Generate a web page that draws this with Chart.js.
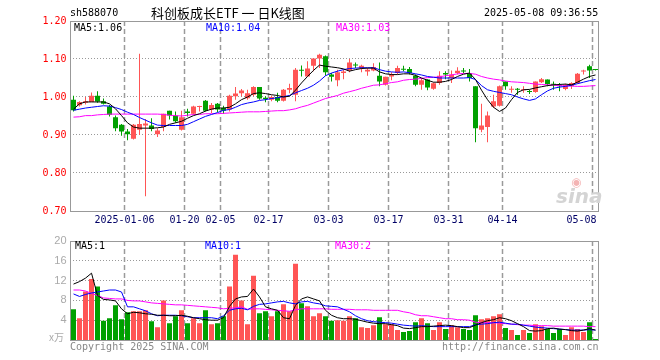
<!DOCTYPE html>
<html><head><meta charset="utf-8">
<script src="https://cdn.jsdelivr.net/npm/chart.js@4.4.1/dist/chart.umd.min.js"></script>
<style>
html,body{margin:0;padding:0;background:#fff;}
#wrap{position:relative;width:660px;height:360px;overflow:hidden;background:#fff;}
canvas{position:absolute;left:0;top:0;}
.t{position:absolute;white-space:nowrap;font-family:"DejaVu Sans Mono","Liberation Mono",monospace;font-size:10px;line-height:12px;}
</style></head><body>
<div id="wrap">
<canvas id="k" width="660" height="360"></canvas>
<canvas id="v" width="660" height="360"></canvas>
<div class="t" style="left:70px;top:7px;">sh588070</div>
<div class="t" style="left:151px;top:4px;font-family:'Noto Sans CJK SC',sans-serif;font-size:13px;line-height:18px;">科创板成长ETF 一 日K线图</div>
<div class="t" style="left:484px;top:7px;">2025-05-08 09:36:55</div>
<div class="t" style="left:74px;top:22px;color:#000;">MA5:1.06</div>
<div class="t" style="left:206px;top:22px;color:#0000ff;">MA10:1.04</div>
<div class="t" style="left:336px;top:22px;color:#ff00ff;">MA30:1.03</div>
<div class="t" style="left:75px;top:240px;color:#000;">MA5:1</div>
<div class="t" style="left:205px;top:240px;color:#0000ff;">MA10:1</div>
<div class="t" style="left:335px;top:240px;color:#ff00ff;">MA30:2</div>
<div class="t" style="left:49px;top:331px;color:#aaa;font-family:'Noto Sans CJK SC',sans-serif;font-size:10px;">x万</div>
<div class="t" style="left:70px;top:341px;color:#888;">Copyright 2025 SINA.COM</div>
<div class="t" style="left:442px;top:341px;color:#888;">http://finance.sina.com.cn</div>
<div class="t" style="left:571px;top:176px;color:#f4b4b4;font-family:'DejaVu Sans',sans-serif;font-size:12px;line-height:12px;font-weight:bold;">◉</div>
<div class="t" style="left:556px;top:185px;color:#d4d4d4;font-family:'DejaVu Sans',sans-serif;font-size:20px;line-height:22px;font-weight:bold;font-style:italic;">sina</div>
</div>
<script>
const dates = ['2024-12-23','2024-12-24','2024-12-25','2024-12-26','2024-12-27','2024-12-30','2024-12-31',
'2025-01-02','2025-01-03','2025-01-06','2025-01-07','2025-01-08','2025-01-09','2025-01-10','2025-01-13','2025-01-14','2025-01-15','2025-01-16','2025-01-17','2025-01-20','2025-01-21','2025-01-22','2025-01-23','2025-01-24','2025-01-27',
'2025-02-05','2025-02-06','2025-02-07','2025-02-10','2025-02-11','2025-02-12','2025-02-13','2025-02-14','2025-02-17','2025-02-18','2025-02-19','2025-02-20','2025-02-21','2025-02-24','2025-02-25','2025-02-26','2025-02-27','2025-02-28',
'2025-03-03','2025-03-04','2025-03-05','2025-03-06','2025-03-07','2025-03-10','2025-03-11','2025-03-12','2025-03-13','2025-03-14','2025-03-17','2025-03-18','2025-03-19','2025-03-20','2025-03-21','2025-03-24','2025-03-25','2025-03-26','2025-03-27','2025-03-28','2025-03-31',
'2025-04-01','2025-04-02','2025-04-03','2025-04-07','2025-04-08','2025-04-09','2025-04-10','2025-04-11','2025-04-14','2025-04-15','2025-04-16','2025-04-17','2025-04-18','2025-04-21','2025-04-22','2025-04-23','2025-04-24','2025-04-25','2025-04-28','2025-04-29','2025-04-30',
'2025-05-06','2025-05-07','2025-05-08'];
const tickDates = ['2025-01-06','2025-01-20','2025-02-05','2025-02-17','2025-03-03','2025-03-17','2025-03-31','2025-04-14','2025-05-08'];
const tickText  = ['2025-01-06','01-20','02-05','02-17','03-03','03-17','03-31','04-14','05-08'];
const priceTicks = [0.70,0.80,0.90,1.00,1.10,1.20];
const volTicks = [0,4,8,12,16,20];

const opens = [0.993,0.978,0.985,0.987,1.003,0.989,0.975,0.947,0.927,0.909,
0.890,0.914,0.925,0.925,0.902,0.921,0.964,0.951,0.914,0.962,
0.956,0.974,0.990,0.967,0.982,0.971,0.967,1.002,1.010,0.997,
1.006,1.026,0.998,0.993,1.000,0.990,1.019,1.006,1.071,1.054,
1.082,1.101,1.107,1.059,1.044,1.063,1.070,1.085,1.076,1.067,
1.070,1.056,1.032,1.054,1.063,1.074,1.074,1.056,1.032,1.046,
1.022,1.037,1.063,1.050,1.063,1.069,1.063,1.028,0.914,0.921,
0.975,0.977,1.041,1.019,1.021,1.018,1.015,1.013,1.039,1.046,
1.034,1.031,1.021,1.028,1.037,1.067,1.081,1.072];
const closes = [0.965,0.987,0.989,1.003,0.988,0.982,0.953,0.918,0.909,0.902,
0.927,0.929,0.930,0.916,0.912,0.956,0.951,0.936,0.947,0.958,
0.975,0.976,0.964,0.979,0.967,0.964,1.003,1.009,1.017,1.010,
1.026,0.996,0.995,1.000,0.990,1.019,1.024,1.072,1.069,1.075,
1.101,1.111,1.065,1.053,1.065,1.067,1.091,1.083,1.082,1.072,
1.079,1.041,1.053,1.059,1.076,1.072,1.063,1.032,1.044,1.025,
1.036,1.056,1.059,1.059,1.069,1.067,1.050,0.918,0.925,0.951,
0.989,1.028,1.028,1.021,1.019,1.020,1.013,1.041,1.047,1.034,
1.032,1.028,1.032,1.037,1.061,1.069,1.070,1.071];
const highs = [1.003,0.989,1.000,1.012,1.015,0.996,0.979,0.951,0.929,0.916,
0.929,1.114,0.942,0.944,0.918,0.956,0.964,0.962,0.964,0.969,
0.977,0.977,0.992,0.984,0.984,0.977,1.006,1.026,1.021,1.019,
1.028,1.026,1.002,1.004,1.011,1.021,1.035,1.076,1.083,1.094,
1.101,1.114,1.109,1.063,1.072,1.072,1.100,1.091,1.085,1.076,
1.089,1.091,1.053,1.065,1.082,1.082,1.079,1.059,1.050,1.047,
1.038,1.068,1.068,1.070,1.078,1.076,1.074,1.028,0.982,0.962,
1.006,1.030,1.041,1.028,1.024,1.028,1.019,1.041,1.050,1.046,
1.041,1.037,1.035,1.039,1.063,1.072,1.085,1.073];
const lows = [0.962,0.975,0.980,0.987,0.985,0.980,0.949,0.910,0.898,0.886,
0.888,0.900,0.739,0.910,0.895,0.910,0.941,0.932,0.912,0.949,
0.953,0.962,0.962,0.958,0.960,0.956,0.962,0.993,1.002,0.993,
1.002,0.993,0.986,0.989,0.986,0.988,1.010,0.989,1.054,1.054,
1.068,1.076,1.056,1.041,1.028,1.047,1.065,1.076,1.065,1.056,
1.068,1.028,1.030,1.044,1.059,1.068,1.059,1.028,1.019,1.018,
1.019,1.032,1.047,1.037,1.059,1.063,1.041,0.881,0.907,0.881,
0.971,0.975,1.019,1.011,1.006,1.011,1.008,1.011,1.037,1.028,
1.019,1.015,1.018,1.021,1.035,1.059,1.050,1.070];
const ma5 = [0.968,0.982,0.987,0.987,0.987,0.987,0.982,0.969,0.951,0.932,
0.921,0.918,0.918,0.918,0.919,0.921,0.928,0.932,0.936,0.944,
0.951,0.956,0.963,0.968,0.971,0.971,0.973,0.982,0.993,1.000,
1.009,1.011,1.009,1.006,1.004,1.000,1.002,1.018,1.037,1.054,
1.070,1.084,1.081,1.079,1.077,1.074,1.068,1.072,1.075,1.076,
1.076,1.066,1.061,1.059,1.059,1.061,1.061,1.057,1.050,1.044,
1.039,1.039,1.041,1.046,1.054,1.060,1.063,1.046,1.018,0.993,
0.973,0.962,0.971,0.993,1.012,1.019,1.020,1.024,1.027,1.030,
1.032,1.033,1.034,1.032,1.039,1.047,1.054,1.058];
const ma10 = [0.965,0.968,0.971,0.973,0.975,0.977,0.976,0.972,0.967,0.960,
0.954,0.946,0.939,0.932,0.926,0.925,0.925,0.925,0.925,0.928,
0.935,0.942,0.949,0.954,0.959,0.965,0.967,0.973,0.980,0.984,
0.987,0.991,0.993,0.996,0.998,1.001,1.004,1.011,1.017,1.023,
1.031,1.042,1.056,1.063,1.068,1.072,1.075,1.076,1.077,1.077,
1.077,1.072,1.068,1.066,1.065,1.066,1.064,1.061,1.058,1.054,
1.052,1.050,1.050,1.050,1.050,1.050,1.051,1.046,1.030,1.019,
1.015,1.012,1.009,1.006,1.000,0.995,0.991,0.995,1.006,1.016,
1.023,1.026,1.028,1.031,1.035,1.039,1.043,1.046];
const ma30 = [0.947,0.948,0.951,0.951,0.953,0.954,0.955,0.955,0.955,0.955,
0.955,0.955,0.955,0.955,0.955,0.954,0.952,0.951,0.950,0.952,
0.954,0.954,0.956,0.956,0.956,0.957,0.958,0.959,0.960,0.961,
0.961,0.961,0.962,0.963,0.964,0.964,0.966,0.969,0.974,0.978,
0.984,0.990,0.996,1.000,1.004,1.010,1.014,1.018,1.023,1.027,
1.031,1.032,1.035,1.038,1.040,1.044,1.046,1.047,1.049,1.051,
1.052,1.053,1.056,1.058,1.061,1.062,1.062,1.060,1.054,1.050,
1.047,1.045,1.042,1.040,1.039,1.038,1.036,1.034,1.033,1.032,
1.031,1.030,1.029,1.029,1.028,1.028,1.029,1.030];
const volumes = [6.2,4.4,9.8,12.3,10.8,3.9,4.4,7.0,4.2,5.6,
5.8,5.8,6.0,3.8,2.6,8.0,3.4,4.8,6.0,3.4,
4.4,3.4,6.0,3.2,3.4,4.8,10.8,17.2,8.0,3.2,
13.0,5.4,5.8,4.8,5.8,7.2,5.8,15.4,7.4,6.8,
4.8,5.4,4.8,3.9,4.0,3.9,4.8,4.4,2.6,2.4,
3.0,4.6,3.2,3.2,2.0,1.6,1.8,3.6,4.4,3.4,
2.0,3.6,2.2,3.0,2.6,2.2,2.0,5.0,4.2,4.4,
4.8,5.2,2.4,2.0,1.0,2.0,1.4,3.2,2.8,2.2,
1.4,2.2,1.0,2.6,2.2,1.6,3.6,0.2];
const vma5 = [11.3,11.8,12.5,13.5,9.0,8.2,8.1,7.9,6.3,5.3,
5.6,5.5,5.3,5.2,5.0,5.0,4.9,4.9,5.0,4.8,
4.5,4.3,4.1,4.0,4.0,4.5,6.8,8.3,8.7,8.8,
10.3,8.7,6.7,6.3,6.0,4.5,4.3,7.0,8.3,8.7,
8.3,7.9,6.0,5.0,4.5,4.3,4.3,4.2,3.9,3.6,
3.4,3.3,3.3,3.1,2.9,2.4,2.3,2.5,2.7,2.7,
2.8,2.9,3.0,2.9,2.7,2.5,2.5,3.0,3.5,3.9,
4.1,4.5,4.3,3.9,3.3,2.7,1.9,1.8,1.9,2.3,
2.4,2.2,2.1,1.9,1.8,2.0,2.3,2.0];
const vma10 = [9.3,8.8,9.2,9.5,9.7,9.9,10.1,10.1,9.7,6.7,
6.7,6.3,5.9,5.3,4.9,5.0,5.0,5.0,4.9,4.7,
4.5,4.5,4.5,4.5,4.3,4.9,6.0,6.3,6.4,6.1,
6.8,7.2,7.3,7.5,7.7,7.8,7.5,7.3,7.7,7.8,
7.5,7.3,6.9,6.8,6.7,6.2,5.7,4.9,4.3,3.9,
3.7,3.6,3.5,3.4,3.2,3.0,2.9,2.8,2.9,2.8,
2.7,2.7,2.7,2.7,2.7,2.7,2.7,3.1,3.2,3.3,
3.5,3.6,3.4,3.2,3.2,3.0,2.8,2.6,2.5,2.4,
2.3,2.2,2.1,2.0,2.0,2.0,2.1,2.0];
const vma30 = [10.1,10.1,9.9,9.4,9.0,8.5,8.4,8.3,8.3,8.0,
7.9,7.9,7.7,7.5,7.4,7.3,7.2,7.1,7.1,7.0,
6.9,6.8,6.7,6.6,6.5,6.3,6.4,6.5,6.7,6.2,
6.3,6.3,6.2,6.1,6.0,5.9,5.8,6.1,6.3,6.3,
6.3,6.3,6.3,6.2,6.2,6.2,6.2,6.1,6.1,6.1,
6.0,6.0,6.0,6.0,6.0,5.7,5.5,5.1,4.9,4.9,
4.7,4.5,4.3,4.3,4.1,4.1,4.0,3.6,3.5,3.5,
3.5,3.4,3.3,3.2,3.1,3.0,3.0,2.9,2.9,2.9,
2.8,2.8,2.8,2.8,2.8,2.8,2.7,2.7];

const RED = '#ff5555', GREEN = '#00a000';
const colors = dates.map((d,i)=> closes[i] >= opens[i] ? RED : GREEN);
const MONO = '"DejaVu Sans Mono","Liberation Mono",monospace';

function framePlugin(hVals, showDates){
  return {
    id:'frame',
    beforeDatasetsDraw(chart){
      const {ctx, chartArea:a, scales:{x,y}} = chart;
      const L = Math.floor(a.left), R = Math.floor(a.right), T = Math.floor(a.top), B = Math.floor(a.bottom);
      ctx.save();
      ctx.lineWidth = 1;
      ctx.strokeStyle = '#999999';
      ctx.setLineDash([1,2]);
      hVals.forEach(v=>{
        const py = Math.floor(y.getPixelForValue(v)) + 0.5;
        ctx.beginPath(); ctx.moveTo(L, py); ctx.lineTo(R, py); ctx.stroke();
      });
      const half = (x.getPixelForValue(1) - x.getPixelForValue(0)) / 2;
      ctx.strokeStyle = '#9a9a9a';
      ctx.lineWidth = 1.5;
      ctx.setLineDash([5,3]);
      tickDates.forEach(d=>{
        const i = dates.indexOf(d);
        const px = Math.floor(x.getPixelForValue(i) - half) + 0.5;
        ctx.beginPath(); ctx.moveTo(px, T); ctx.lineTo(px, B); ctx.stroke();
      });
      ctx.restore();
    },
    afterDraw(chart){
      const {ctx, chartArea:a, scales:{x}} = chart;
      const L = Math.floor(a.left)+0.5, R = Math.floor(a.right)+0.5, T = Math.floor(a.top)+0.5, B = Math.floor(a.bottom)+0.5;
      ctx.save();
      ctx.strokeStyle = '#999';
      ctx.lineWidth = 1;
      ctx.setLineDash([]);
      ctx.strokeRect(L, T, R-L, B-T);
      if (showDates){
        const half = (x.getPixelForValue(1) - x.getPixelForValue(0)) / 2;
        ctx.font = '10px ' + MONO;
        ctx.fillStyle = '#000066';
        ctx.textBaseline = 'middle';
        tickDates.forEach((d,k)=>{
          const i = dates.indexOf(d);
          const px = x.getPixelForValue(i) - half;
          const w = ctx.measureText(tickText[k]).width;
          let lx = px - w/2;
          if (lx + w > R) lx = R - w - 2;
          ctx.fillText(tickText[k], lx, B + 9);
        });
      }
      ctx.restore();
    }
  };
}

const lineDs = (data, color) => ({type:'line', data, borderColor:color, borderWidth:1, pointRadius:0, tension:0, order:0, fill:false});

new Chart(document.getElementById('k'), {
  type:'bar',
  data:{labels:dates, datasets:[
    lineDs(ma5,'#000000'), lineDs(ma10,'#0000ff'), lineDs(ma30,'#ff00ff'),
    {data:dates.map((d,i)=>[opens[i],closes[i]]), backgroundColor:colors, barThickness:5, minBarLength:1, grouped:false, inflateAmount:0, borderWidth:0, order:1},
    {data:dates.map((d,i)=>[lows[i],highs[i]]), backgroundColor:colors, barThickness:1, grouped:false, inflateAmount:0, borderWidth:0, order:2}
  ]},
  options:{
    responsive:false, animation:false, devicePixelRatio:1,
    layout:{padding:{left:0, right:61.5, top:21, bottom:149}},
    plugins:{legend:{display:false}, tooltip:{enabled:false}},
    scales:{
      x:{display:false, offset:true, grid:{display:false}},
      y:{min:0.7, max:1.2, afterFit:s=>{s.width=70.5;},
         afterBuildTicks:s=>{s.ticks = priceTicks.map(v=>({value:v}));},
         ticks:{callback:v=>Number(v).toFixed(2), color:'#ff0000', font:{family:MONO, size:10}, padding:4},
         grid:{display:false, drawTicks:false}, border:{display:false}}
    }
  },
  plugins:[framePlugin([0.8,0.9,1.0,1.1], true)]
});

new Chart(document.getElementById('v'), {
  type:'bar',
  data:{labels:dates, datasets:[
    lineDs(vma5,'#000000'), lineDs(vma10,'#0000ff'), lineDs(vma30,'#ff00ff'),
    {data:volumes, backgroundColor:colors, barThickness:5, grouped:false, inflateAmount:0, borderWidth:0, order:1}
  ]},
  options:{
    responsive:false, animation:false, devicePixelRatio:1,
    layout:{padding:{left:0, right:61.5, top:241, bottom:20}},
    plugins:{legend:{display:false}, tooltip:{enabled:false}},
    scales:{
      x:{display:false, offset:true, grid:{display:false}},
      y:{min:0, max:20, afterFit:s=>{s.width=70.5;},
         afterBuildTicks:s=>{s.ticks = volTicks.map(v=>({value:v}));},
         ticks:{callback:v=>v===0?'':String(v), color:'#aaaaaa', font:{family:'"Liberation Sans",sans-serif', size:11}, padding:4},
         grid:{display:false, drawTicks:false}, border:{display:false}}
    }
  },
  plugins:[framePlugin([4,8,12,16], false)]
});
</script>
</body></html>
